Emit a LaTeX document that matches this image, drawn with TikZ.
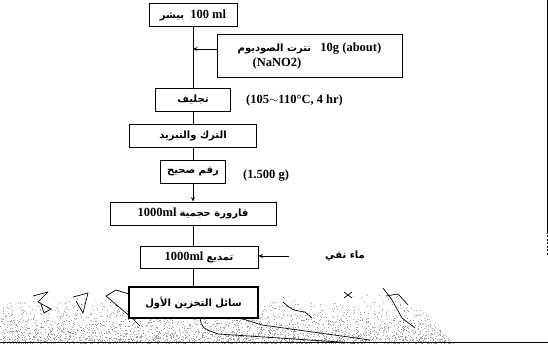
\documentclass[tikz,border=0pt]{standalone}
\usepackage{fontspec}
\setmainfont{Liberation Serif}
\newfontfamily\arabicfont[Script=Arabic]{DejaVu Sans}
\TeXXeTstate=1
\usetikzlibrary{arrows.meta}
% Arabic run, set right to left inside a left-to-right line
\newcommand\artxt[1]{{\arabicfont\bfseries\fontsize{10}{12}\selectfont\beginR #1\endR}}

\begin{document}
\begin{tikzpicture}[x=1pt,y=-1pt,
  box/.style={draw, line width=0.9pt, fill=white, minimum height=23pt, inner sep=0pt,
              font=\fontsize{12.5}{14}\selectfont\bfseries},
  link/.style={line width=0.9pt},
  arr/.style={line width=0.9pt,-{Stealth[length=4.5pt,width=4pt]}},
  lbl/.style={font=\fontsize{12.5}{14}\selectfont\bfseries, inner sep=0pt, anchor=west},
  scribble/.style={line width=0.7pt, line join=round},
]
\useasboundingbox (0,0) rectangle (548,344);

% speckled ground strip along the bottom
\pgfmathsetseed{11}
\begin{scope}
  \clip (0,344) -- (0,304) -- (25,299) -- (60,297) -- (100,300) -- (128,306) -- (128,318)
        -- (258,318) -- (262,300) -- (285,297) -- (320,304) -- (350,298) -- (380,284)
        -- (405,296) -- (425,312) -- (445,335) -- (455,344) -- cycle;
  \foreach \i in {1,...,3000}{
    \pgfmathsetmacro\px{rnd*460}
    \pgfmathsetmacro\py{344-60*rnd*rnd}
    \fill[gray!75] (\px,\py) rectangle ++(0.8,0.8);
  }
\end{scope}
% outlines within the strip
\draw[scribble] (33,296) -- (48,292) -- (38,302) -- (51,309) -- (44,313) -- (41,304);
\draw[scribble] (73,297) -- (88,293) -- (83,313) -- (76,301);
\draw[scribble] (106,296) -- (116,290) -- (129,294);
\draw[scribble] (106,296) -- (132,318) -- (140,326);
\draw[scribble] (200,318) .. controls (202,328) .. (218,334) -- (355,343);
\draw[scribble] (240,318) -- (262,325) -- (370,340);
\draw[scribble] (283,302) .. controls (292,310) .. (305,312) -- (312,318);
\draw[scribble] (344,292) -- (352,298) (352,292) -- (344,298);
\draw[scribble] (383,288) -- (392,300) -- (402,318) -- (415,328);
\draw[scribble] (386,296) -- (398,294) -- (408,305);

% frame lines
\draw[line width=0.9pt] (547,0) -- (547,232);
\draw[line width=0.9pt, dashed, dash pattern=on 2pt off 1.5pt] (547,232) -- (547,256);
\draw[line width=0.9pt] (0,342.5) -- (548,342.5);

% process boxes
\node[box, minimum width=88pt] (b1) at (193,15)
  {\artxt{بيشر}\ \ 100 ml};
\node[box, minimum width=185pt, minimum height=43pt, align=left] (b2) at (309.5,55.5)
  {\artxt{نترت الصوديوم}\ \ \ 10g (about)\\[1pt]\hspace{1.2em}(NaNO2)};
\node[box, minimum width=75pt] (b3) at (193,99.5) {\artxt{تجليف}};
\node[box, minimum width=127pt] (b4) at (193,135.5) {\artxt{الترك والتبريد}};
\node[box, minimum width=65pt] (b5) at (193,171.5) {\artxt{رقم صحيح}};
\node[box, minimum width=166pt] (b6) at (193,213.5) {1000ml\ \artxt{قارورة حجمية}};
\node[box, minimum width=118pt, minimum height=22pt] (b7) at (199,257.5) {1000ml\ \artxt{تمديع}};
\node[box, minimum width=129pt, minimum height=31pt, line width=2pt] (b8) at (193.5,302.5)
  {\artxt{سائل التخزين الأول}};

% side labels
\node[lbl] (t1) at (246,100) {(105$\sim$110°C, 4 hr)};
\node[lbl] (t2) at (243,176) {(1.500 g)};
\node[lbl] (t3) at (325,256) {\artxt{ماء نقي}};

% connectors
\coordinate (j) at (193,49);
\coordinate (ws) at (289,256);
\draw[link] (b1.south) -- (b3.north);
\draw[arr] (b2.west |- j) -- (j);
\draw[link] (b3.south) -- (b4.north);
\draw[link] (b4.south) -- (b5.north);
\draw[arr] (b5.south) -- (b6.north);
\draw[link] (b6.south) -- (b6.south |- b7.north);
\draw[arr] (ws) -- (b7.east |- ws);
\draw[link] (b6.south |- b7.south) -- (b6.south |- b8.north);
\end{tikzpicture}
\end{document}
